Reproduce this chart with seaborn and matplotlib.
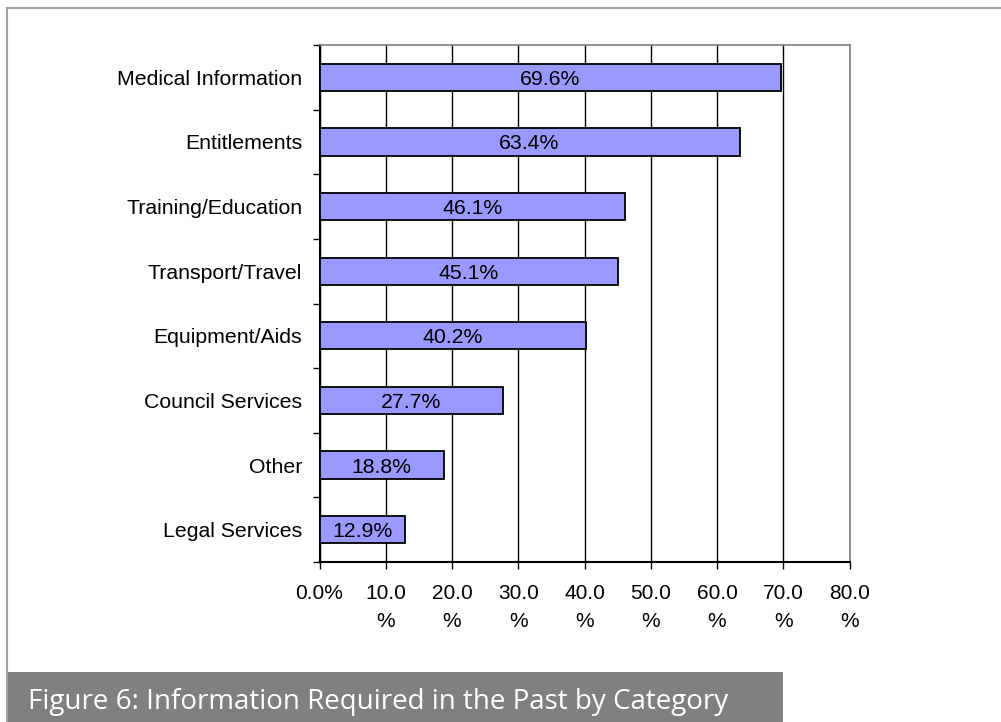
import matplotlib
matplotlib.use("Agg")
import matplotlib.pyplot as plt
from matplotlib.lines import Line2D
from matplotlib.patches import Rectangle
from matplotlib.ticker import FixedLocator
import pandas as pd
import seaborn as sns

categories = [
    "Medical Information",
    "Entitlements",
    "Training/Education",
    "Transport/Travel",
    "Equipment/Aids",
    "Council Services",
    "Other",
    "Legal Services",
]
percentages = [69.6, 63.4, 46.1, 45.1, 40.2, 27.7, 18.8, 12.9]
x_ticks = [0, 10, 20, 30, 40, 50, 60, 70, 80]
x_tick_labels = ["0.0%", "10.0\n%", "20.0\n%", "30.0\n%", "40.0\n%",
                 "50.0\n%", "60.0\n%", "70.0\n%", "80.0\n%"]
caption = "Figure 6: Information Required in the Past by Category"

df = pd.DataFrame({"category": categories, "pct": percentages})

sns.set_theme(style="white")
plt.rcParams["font.family"] = ["Liberation Sans", "DejaVu Sans"]

W, H = 1001, 722
fig = plt.figure(figsize=(W / 100, H / 100), dpi=100)
fig.patch.set_facecolor("white")
ax = fig.add_axes([319.5 / W, 1 - 562 / H, 530 / W, 517 / H])

sns.barplot(data=df, y="category", x="pct", orient="h", order=categories,
            color="#9999FF", saturation=1, width=0.42,
            edgecolor="black", linewidth=1.3, ax=ax, zorder=3)

ax.set_xlim(0, 80)
ax.set_ylim(len(categories) - 0.5, -0.5)
ax.set_xlabel("")
ax.set_ylabel("")

# vertical gridlines at each 10 %
ax.xaxis.grid(True, color="black", linewidth=1.0, zorder=0)
ax.yaxis.grid(False)
ax.set_axisbelow(True)

ax.set_xticks(x_ticks)
ax.set_xticklabels(x_tick_labels, fontsize=15, linespacing=1.6, va="top")
ax.tick_params(axis="x", direction="out", length=5, width=1, color="black",
               bottom=True, pad=11, labelcolor="black")

# category labels without ticks, boundary ticks between categories
ax.tick_params(axis="y", which="major", length=0, pad=12.5,
               labelsize=15.3, labelcolor="black")
ax.yaxis.set_minor_locator(FixedLocator([i - 0.5 for i in range(len(categories) + 1)]))
ax.tick_params(axis="y", which="minor", left=True, direction="out",
               length=5, width=1, color="black")

for side in ("left", "bottom"):
    ax.spines[side].set_color("black")
    ax.spines[side].set_linewidth(1.5)
for side in ("top", "right"):
    ax.spines[side].set_color("#808080")
    ax.spines[side].set_linewidth(1.2)

# value labels centred inside each bar
for i, v in enumerate(percentages):
    ax.text(v / 2, i, f"{v:.1f}%", ha="center", va="center_baseline",
            fontsize=15.3, color="black", zorder=4)

# page frame and caption banner
fig.add_artist(Line2D([7 / W, 1], [1 - 8 / H, 1 - 8 / H], transform=fig.transFigure,
                      color="#a0a0a0", linewidth=1.5))
fig.add_artist(Line2D([7 / W, 7 / W], [0, 1 - 8 / H], transform=fig.transFigure,
                      color="#a0a0a0", linewidth=1.5))
fig.add_artist(Rectangle((6 / W, 0), (783 - 6) / W, 50 / H, transform=fig.transFigure,
                         facecolor="#808080", edgecolor="none"))
fig.text(28 / W, 1 - 709 / H, caption, color="white", fontsize=20,
         family=["Open Sans", "DejaVu Sans"], ha="left", va="baseline")

fig.savefig("out.png", dpi=100, facecolor="white")
